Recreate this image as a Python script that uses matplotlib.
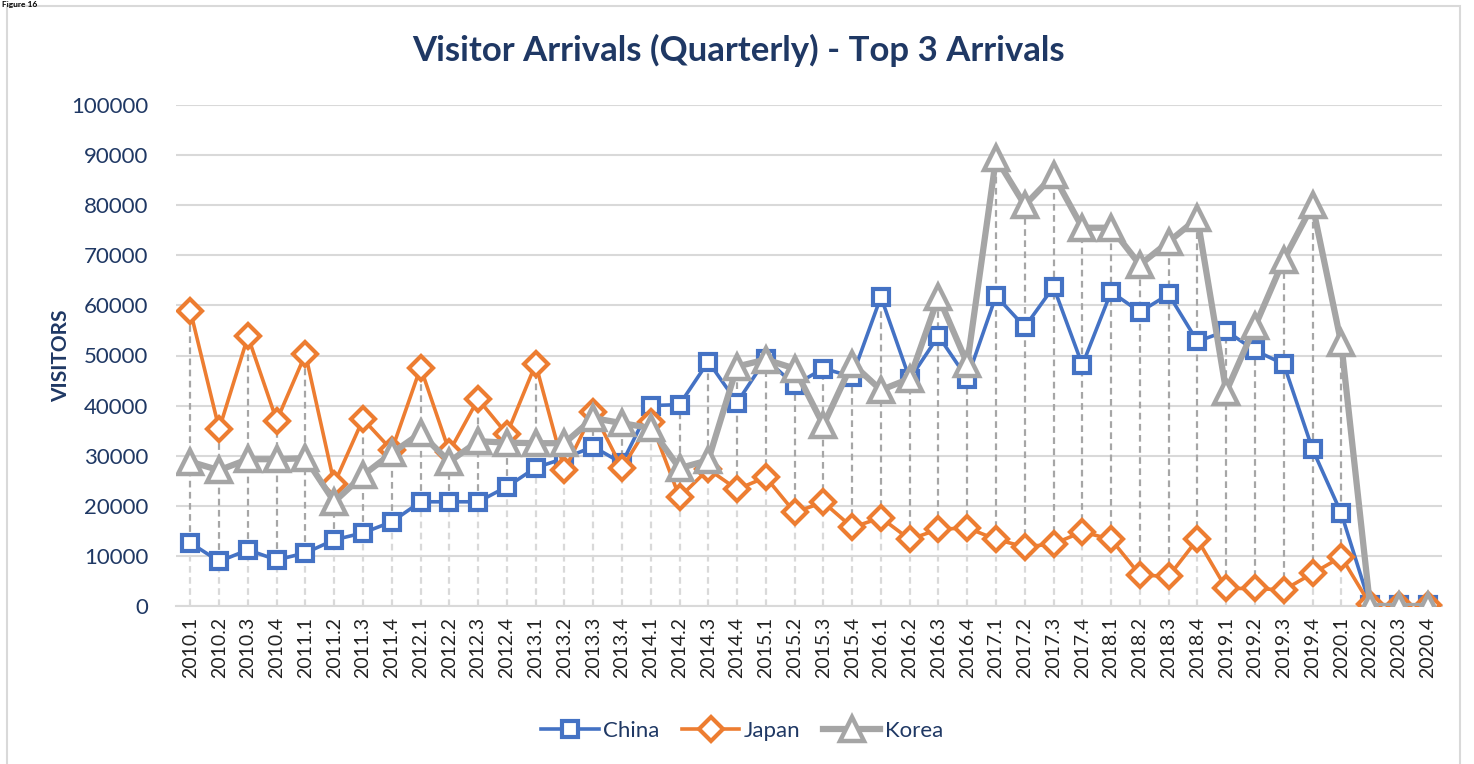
import numpy as np
import matplotlib
matplotlib.use('Agg')
from matplotlib import pyplot as plt
from matplotlib.patches import Rectangle

plt.rcParams['font.family'] = ['Lato', 'DejaVu Sans']

### Data (visitor arrivals per quarter)
quarters = ['%d.%d' % (y, q) for y in range(2010, 2021) for q in range(1, 5)]

china = [12600, 8900, 11200, 9200, 10600, 13200, 14600, 16800, 20800, 20800, 20800, 23800,
         27600, 29500, 31800, 28500, 40000, 40200, 48800, 40600, 49300, 44100, 47400, 45800,
         61700, 45300, 53900, 45400, 61900, 55700, 63700, 48100, 62700, 58700, 62200, 52800,
         54900, 51000, 48300, 31300, 18500, 200, 100, 100]

japan = [58900, 35300, 53800, 37000, 50300, 24400, 37300, 31100, 47600, 30800, 41300, 34300,
         48300, 27100, 38800, 27500, 36800, 21700, 27300, 23300, 25700, 18700, 20700, 15700,
         17600, 13300, 15300, 15600, 13300, 11800, 12400, 14800, 13300, 6200, 5900, 13300,
         3500, 3500, 3200, 6500, 9800, 300, 200, 100]

korea = [28800, 27100, 29300, 29300, 29500, 20800, 26100, 30500, 34500, 28800, 32900, 32600,
         32500, 32500, 37500, 36500, 35500, 27500, 29100, 47800, 49200, 47400, 36100, 48400,
         43100, 45400, 61700, 48400, 89400, 80000, 86000, 75500, 75500, 68100, 72700, 77400,
         42800, 55800, 69100, 80000, 52400, 0, 0, 0]

yticks = list(range(0, 100001, 10000))

navy = '#1F3864'
c_china = '#4472C4'
c_japan = '#ED7D31'
c_korea = '#A5A5A5'

fig = plt.figure(figsize=(14.74, 7.64), dpi=100)
ax = fig.add_axes([176/1474, 1 - 606/764, (1442 - 176)/1474, (606 - 105)/764])

x = np.arange(len(quarters))
all_vals = np.array([china, japan, korea])
top = all_vals.max(axis=0)
low = all_vals.min(axis=0)

# drop lines: darker between series, lighter below the lowest one
ax.vlines(x, low, top, colors='#A6A6A6', linestyles=(0, (3, 2)), lw=1.6, zorder=2)
ax.vlines(x, 0, low, colors='#D9D9D9', linestyles=(0, (3, 2)), lw=1.6, zorder=2)

ax.plot(x, china, color=c_china, lw=2.6, marker='s', ms=11, mfc='white', mec=c_china, mew=3,
        label='China', zorder=3)
ax.plot(x, japan, color=c_japan, lw=2.6, marker='D', ms=12.5, mfc='white', mec=c_japan, mew=3,
        label='Japan', zorder=4)
ax.plot(x, korea, color=c_korea, lw=4.5, marker='^', ms=17, mfc='white', mec=c_korea, mew=3.2,
        label='Korea', zorder=5)

ax.set_xlim(-0.5, len(quarters) - 0.5)
ax.set_ylim(0, 100000)
ax.set_yticks(yticks)
ax.set_yticklabels([str(v) for v in yticks], color=navy, fontsize=16)
ax.set_xticks(x)
ax.set_xticklabels(quarters, rotation=90, color='#222222', fontsize=14)
ax.tick_params(length=0, pad=8)
ax.tick_params(axis='y', pad=20)
ax.grid(axis='y', color='#D9D9D9', lw=1.5)
ax.set_axisbelow(True)
for s in ['top', 'right', 'left']:
    ax.spines[s].set_visible(False)
ax.spines['bottom'].set_color('#D9D9D9')
ax.spines['bottom'].set_linewidth(1.5)

ax.set_ylabel('VISITORS', fontsize=15, fontweight='bold', color=navy, labelpad=0)

fig.text(738/1474, 1 - 50/764, 'Visitor Arrivals (Quarterly) - Top 3 Arrivals', ha='center', va='center',
         fontsize=25, fontweight='bold', color=navy)

leg = fig.legend(loc='center', bbox_to_anchor=(742/1474, 1 - 731/764), ncol=3, frameon=False,
                 fontsize=16, handlelength=2.6, columnspacing=1.0, handletextpad=0.2)
for t in leg.get_texts():
    t.set_color(navy)

# chart border and small caption
fig.patches.append(Rectangle((7/1474, -0.05), (1460 - 7)/1474, 1.05 - 6/764, transform=fig.transFigure,
                             fill=False, edgecolor='#D9D9D9', lw=1.5))
fig.text(2/1474, 1 - 1/764, 'Figure 16', ha='left', va='top', fontsize=6, fontweight='bold', color='black')

fig.savefig('out.png', dpi=100)
